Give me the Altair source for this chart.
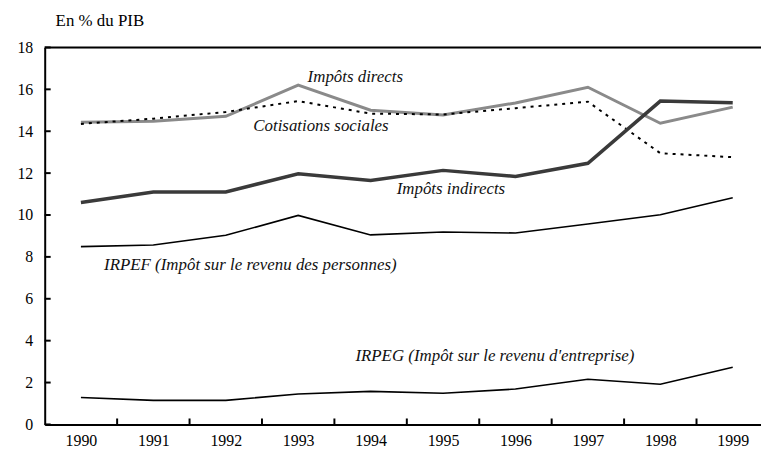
import altair as alt
import pandas as pd

years = [1990, 1991, 1992, 1993, 1994, 1995, 1996, 1997, 1998, 1999]
impots_directs = [14.43, 14.48, 14.71, 16.2, 15.0, 14.78, 15.35, 16.1, 14.38, 15.15]
cotisations = [14.35, 14.6, 14.92, 15.44, 14.84, 14.8, 15.1, 15.41, 12.95, 12.76]
impots_indirects = [10.6, 11.1, 11.1, 11.97, 11.65, 12.13, 11.84, 12.47, 15.44, 15.36]
irpef = [8.49, 8.57, 9.03, 9.98, 9.05, 9.19, 9.14, 9.57, 10.01, 10.82]
irpeg = [1.29, 1.15, 1.15, 1.45, 1.58, 1.49, 1.69, 2.16, 1.92, 2.73]

series_names = ["Impôts directs", "Cotisations sociales", "Impôts indirects", "IRPEF", "IRPEG"]
series_values = [impots_directs, cotisations, impots_indirects, irpef, irpeg]

label_texts = [
    "Impôts directs",
    "Cotisations sociales",
    "Impôts indirects",
    "IRPEF (Impôt sur le revenu des personnes)",
    "IRPEG (Impôt sur le revenu d'entreprise)",
]
label_x = [1993.13, 1992.38, 1994.36, 1990.32, 1993.79]
label_y = [16.6, 14.26, 11.25, 7.63, 3.27]

y_ticks = [0, 2, 4, 6, 8, 10, 12, 14, 16, 18]
x_ticks = [1990.5, 1991.5, 1992.5, 1993.5, 1994.5, 1995.5, 1996.5, 1997.5, 1998.5]

W = 722
H = 380
PX_PER_YEAR = 73
X_MIN = 1989.5
X_MAX = X_MIN + W / PX_PER_YEAR
FONT = "'Liberation Serif', 'Times New Roman', Times, serif"

styles = {
    "Impôts directs": dict(color="#8a8a8a", strokeWidth=3),
    "Cotisations sociales": dict(color="#000000", strokeWidth=2, strokeDash=[3, 5]),
    "Impôts indirects": dict(color="#3a3a3a", strokeWidth=3.5),
    "IRPEF": dict(color="#000000", strokeWidth=1.6),
    "IRPEG": dict(color="#000000", strokeWidth=1.6),
}

rows = []
for name, vals in zip(series_names, series_values):
    for yr, v in zip(years, vals):
        rows.append({"serie": name, "annee": yr, "valeur": v})
df = pd.DataFrame(rows)

xscale = alt.Scale(domain=[X_MIN, X_MAX], nice=False, zero=False)
yscale = alt.Scale(domain=[0, 18], nice=False)

x_axis = alt.Axis(
    values=years, format="d", ticks=False, grid=False, domain=True,
    domainColor="#000", domainWidth=2, labelFont=FONT, labelFontSize=16,
    labelColor="#000", labelPadding=8, title=None, labelFlush=False,
)
y_axis = alt.Axis(
    values=y_ticks, ticks=False, grid=False, domain=True, domainColor="#000",
    domainWidth=2, labelFont=FONT, labelFontSize=16, labelColor="#000",
    labelPadding=12, title=None,
)

base = alt.Chart(df)
layers = []
for name in series_names:
    st = styles[name]
    layers.append(
        base.transform_filter(alt.datum.serie == name)
        .mark_line(strokeCap="butt", strokeJoin="miter", **st)
        .encode(
            x=alt.X("annee:Q", scale=xscale, axis=x_axis),
            y=alt.Y("valeur:Q", scale=yscale, axis=y_axis),
        )
    )

lab_df = pd.DataFrame({"annee": label_x, "valeur": label_y, "texte": label_texts})
labels = alt.Chart(lab_df).mark_text(
    font=FONT, fontSize=17, fontStyle="italic", align="left", baseline="middle", color="#111"
).encode(
    x=alt.X("annee:Q", scale=xscale, axis=x_axis),
    y=alt.Y("valeur:Q", scale=yscale, axis=y_axis),
    text="texte:N",
)

ytick_df = pd.DataFrame({"valeur": y_ticks})
yticks = alt.Chart(ytick_df).mark_rule(color="#000", strokeWidth=2).encode(
    y=alt.Y("valeur:Q", scale=yscale, axis=y_axis),
    x=alt.value(0),
    x2=alt.value(6),
)

xtick_df = pd.DataFrame({"annee": x_ticks})
xticks = alt.Chart(xtick_df).mark_rule(color="#000", strokeWidth=2).encode(
    x=alt.X("annee:Q", scale=xscale, axis=x_axis),
    y=alt.value(H),
    y2=alt.value(H - 6),
)

top_df = pd.DataFrame({"valeur": [18]})
top_line = alt.Chart(top_df).mark_rule(color="#000", strokeWidth=2).encode(
    y=alt.Y("valeur:Q", scale=yscale, axis=y_axis),
    x=alt.value(0),
    x2=alt.value(W),
)

chart = alt.layer(*layers, labels, yticks, xticks, top_line).properties(
    width=W,
    height=H,
    autosize=alt.AutoSizeParams(type="none"),
    padding={"left": 37, "top": 38, "right": 0, "bottom": 24},
    title=alt.TitleParams(
        "En % du PIB", anchor="start", frame="group", dx=11, offset=10,
        font=FONT, fontSize=17, fontWeight="normal", color="#000",
    ),
).configure_view(stroke=None).configure(background="white")

chart.save("out.html", embed_options={"renderer": "svg", "actions": False})
